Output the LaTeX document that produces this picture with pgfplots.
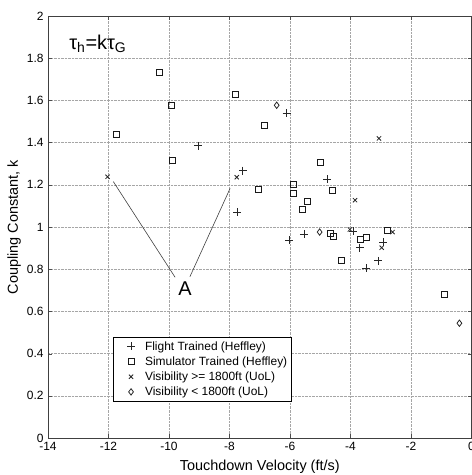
\documentclass[border=0pt]{standalone}
\usepackage{pgfplots}
\pgfplotsset{compat=1.18}
\usepackage{fontspec}
\setmainfont{Liberation Sans}
\begin{document}
\begin{tikzpicture}
\begin{axis}[
  at={(0,0)}, anchor=south west,
  scale only axis, width=423.5bp, height=422bp,
  xmin=-14, xmax=0, ymin=0, ymax=2,
  xtick={-14,-12,-10,-8,-6,-4,-2,0},
  ytick={0,0.2,0.4,0.6,0.8,1,1.2,1.4,1.6,1.8,2},
  /pgf/number format/assume math mode=true,
  ticklabel style={font=\fontsize{12}{14}\selectfont},
  xticklabel style={yshift=-1bp},
  yticklabel style={xshift=-1bp},
  grid=major,
  major grid style={densely dotted, gray!70, line width=0.5pt},
  tick align=inside,
  major tick length=4bp,
  tick style={black!70},
  axis line style={black!75, line width=0.6pt},
  xlabel={Touchdown Velocity (ft/s)},
  ylabel={Coupling Constant, k},
  label style={font=\fontsize{14.5}{16}\selectfont},
  xlabel style={at={(axis description cs:0.5,-0.068)}, anchor=center},
  ylabel style={at={(axis description cs:-0.08,0.5)}, anchor=center},
  legend style={at={(0.153,0.239)}, anchor=north west, draw=black, line width=0.5pt,
    font=\fontsize{12}{14}\selectfont, inner xsep=2bp, inner ysep=2bp, row sep=1bp,
    legend cell align=left},
  legend image code/.code={\path[draw=none] (0bp,0bp) -- (28bp,0bp); \draw[only marks] plot coordinates {(16bp,0bp)};},
]
\addplot[only marks, mark=+, mark size=4bp, black!85, line width=0.8pt] coordinates {
(-9.03,1.385) (-7.74,1.071) (-7.56,1.267) (-6.11,1.539) (-4.77,1.227)
(-6.02,0.937) (-5.54,0.967) (-3.92,0.980) (-3.69,0.902) (-2.92,0.928)
(-3.08,0.840) (-3.49,0.804)
};
\addlegendentry{Flight Trained (Heffley)}
\addplot[only marks, mark=square, mark size=3bp, black!90, line width=0.9pt] coordinates {
(-10.32,1.733) (-11.73,1.439) (-9.91,1.577) (-9.90,1.316) (-7.79,1.629)
(-6.85,1.481) (-7.05,1.177) (-4.99,1.307) (-5.89,1.204) (-5.89,1.160)
(-4.61,1.171) (-5.41,1.120) (-5.58,1.085) (-4.65,0.970) (-4.55,0.956)
(-4.30,0.843) (-3.68,0.942) (-3.46,0.952) (-2.78,0.986) (-0.88,0.682)
};
\addlegendentry{Simulator Trained (Heffley)}
\addplot[only marks, mark=x, mark size=3bp, black!85, line width=0.8pt] coordinates {
(-12.03,1.238) (-7.76,1.236) (-3.06,1.420) (-3.85,1.127) (-4.02,0.988)
(-2.61,0.976) (-2.97,0.902)
};
\addlegendentry{Visibility >= 1800ft (UoL)}
\addplot[only marks, mark=diamond, mark size=3.2bp, black!85, line width=0.8pt] coordinates {
(-6.44,1.577) (-5.02,0.976) (-0.40,0.544)
};
\addlegendentry{Visibility < 1800ft (UoL)}
\addplot[forget plot, black!75, line width=0.6pt] coordinates {(-11.84,1.215) (-9.80,0.762)};
\addplot[forget plot, black!75, line width=0.6pt] coordinates {(-9.31,0.764) (-7.98,1.183)};
\node[font=\fontsize{20}{22}\selectfont] at (axis cs:-9.47,0.71) {A};
\node[font=\fontsize{20}{22}\selectfont, anchor=west, inner sep=0pt] at (axis cs:-13.3,1.87) {τ\textsubscript{h}=kτ\textsubscript{G}};
\end{axis}
\pgfresetboundingbox
\useasboundingbox (-48bp,-37bp) rectangle (424bp,438bp);
\end{tikzpicture}
\end{document}
